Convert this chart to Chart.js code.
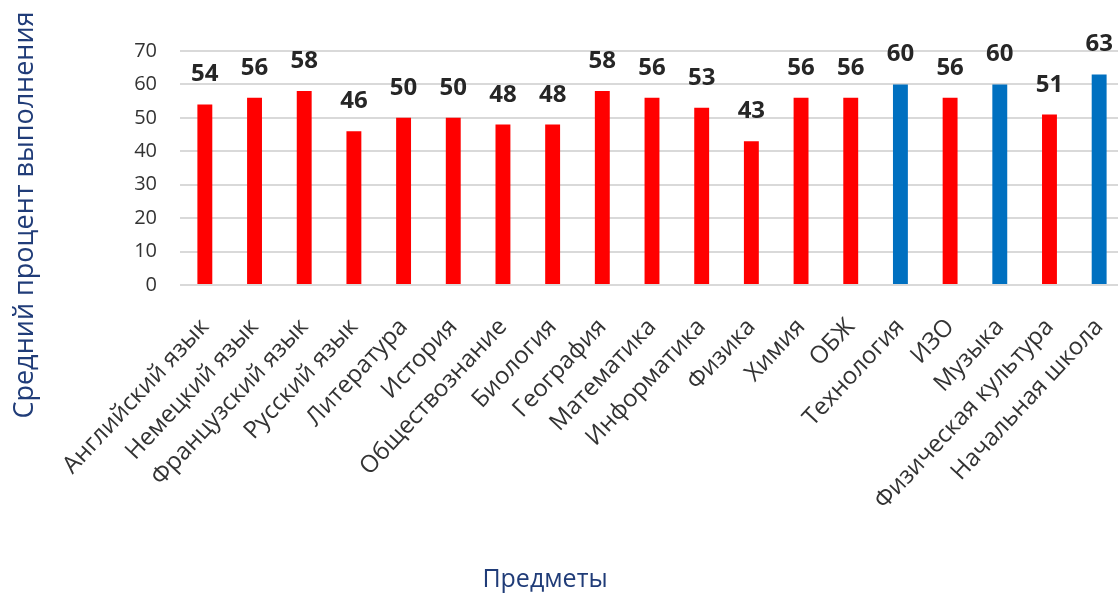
<!DOCTYPE html>
<html>
<head>
<meta charset="utf-8">
<script src="https://cdn.jsdelivr.net/npm/chart.js@4.4.1/dist/chart.umd.min.js"></script>
<style>
    html, body { margin: 0; padding: 0; background: #ffffff; overflow: hidden; }
    #wrap { width: 1124px; height: 596px; }
</style>
</head>
<body>
<div id="wrap"><canvas id="chart"></canvas></div>
<script>
const subjects = [
    "Английский язык", "Немецкий язык", "Французский язык", "Русский язык",
    "Литература", "История", "Обществознание", "Биология", "География",
    "Математика", "Информатика", "Физика", "Химия", "ОБЖ", "Технология",
    "ИЗО", "Музыка", "Физическая культура", "Начальная школа"
];
const scores = [54, 56, 58, 46, 50, 50, 48, 48, 58, 56, 53, 43, 56, 56, 60, 56, 60, 51, 63];
const highlighted = ["Технология", "Музыка", "Начальная школа"];
const yTicks = [0, 10, 20, 30, 40, 50, 60, 70];

const yTitle = "Средний процент выполнения";
const xTitle = "Предметы";

const FONT = "'Open Sans', 'Noto Sans', sans-serif";
const RED = "#ff0000";
const BLUE = "#0070c0";
const TITLE_COLOR = "#203c78";

// value labels above each bar + the two axis titles
const overlay = {
    id: "overlay",
    afterDatasetsDraw(chart) {
        const ctx = chart.ctx;
        const meta = chart.getDatasetMeta(0);
        ctx.save();
        ctx.font = `bold 24px ${FONT}`;
        ctx.fillStyle = "#262626";
        ctx.textAlign = "center";
        ctx.textBaseline = "alphabetic";
        meta.data.forEach((bar, i) => {
            ctx.fillText(String(scores[i]), bar.x, bar.y - 23);
        });

        ctx.fillStyle = TITLE_COLOR;
        ctx.font = `25px ${FONT}`;
        ctx.textBaseline = "middle";
        ctx.fillText(xTitle, 545, 580);

        ctx.font = `27px ${FONT}`;
        ctx.translate(25, 215);
        ctx.rotate(-Math.PI / 2);
        ctx.fillText(yTitle, 0, 0);
        ctx.restore();
    }
};

new Chart(document.getElementById("chart"), {
    type: "bar",
    data: {
        labels: subjects,
        datasets: [{
            data: scores,
            backgroundColor: subjects.map((s) => highlighted.includes(s) ? BLUE : RED),
            categoryPercentage: 1,
            barPercentage: 0.3
        }]
    },
    options: {
        responsive: true,
        maintainAspectRatio: false,
        animation: false,
        layout: { padding: { top: 51, right: 0, left: 0, bottom: 0 } },
        plugins: {
            legend: { display: false },
            tooltip: { enabled: false }
        },
        scales: {
            x: {
                grid: { display: false },
                border: { display: false },
                ticks: {
                    color: "#333333",
                    font: { family: FONT, size: 24 },
                    minRotation: 47,
                    maxRotation: 47,
                    autoSkip: false,
                    padding: 20
                },
                afterFit(scale) {
                    scale.height = 311;
                    scale.paddingLeft = 0;
                    scale.paddingRight = 0;
                }
            },
            y: {
                min: 0,
                max: 70,
                afterBuildTicks(scale) { scale.ticks = yTicks.map((v) => ({ value: v })); },
                grid: { color: "#d9d9d9", lineWidth: 2, drawTicks: false },
                border: { display: false },
                ticks: {
                    color: "#333333",
                    font: { family: FONT, size: 20 },
                    padding: 23
                },
                afterFit(scale) { scale.width = 180; }
            }
        }
    },
    plugins: [overlay]
});
</script>
</body>
</html>
